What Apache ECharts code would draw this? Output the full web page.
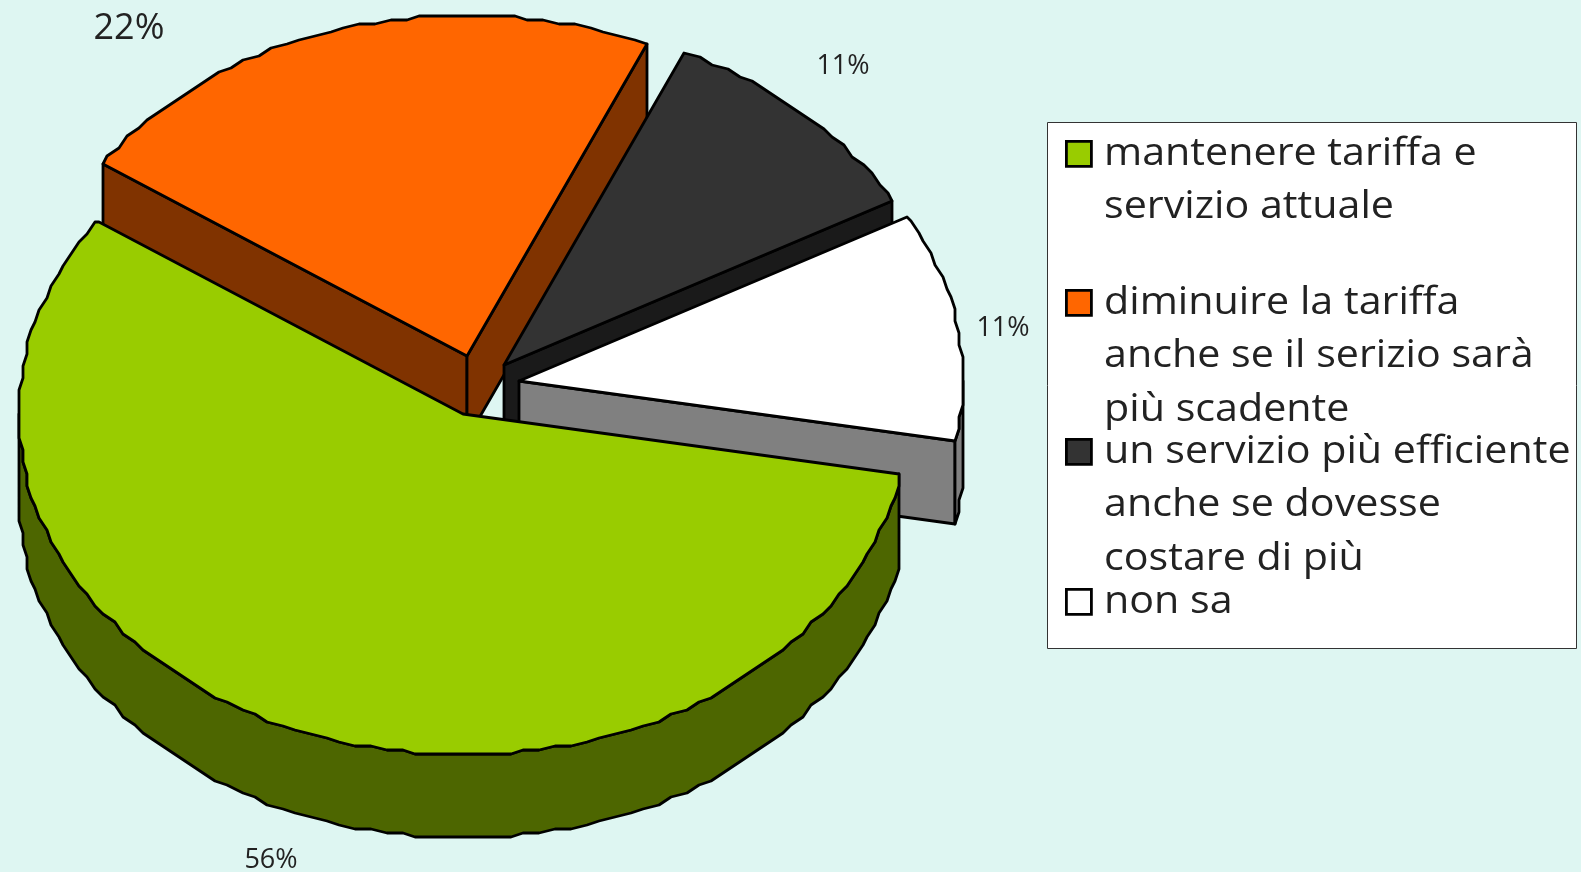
<!DOCTYPE html>
<html>
<head>
<meta charset="utf-8">
<title>Tariffa e servizio</title>
<script src="https://cdn.jsdelivr.net/npm/echarts@6/dist/echarts.min.js"></script>
<style>
  html, body { margin: 0; padding: 0; background: #def6f2; }
  #chart { width: 1581px; height: 872px; }
</style>
</head>
<body>
<div id="chart"></div>
<script>
// dati
var categories = ['mantenere tariffa e\nservizio attuale', 'diminuire la tariffa\nanche se il serizio sarà\npiù scadente', 'un servizio più efficiente\nanche se dovesse\ncostare di più', 'non sa'];
var values = [56, 22, 11, 11];
var topColors = ['#99cc00', '#ff6600', '#333333', '#ffffff'];
var wallColors = ['#4d6600', '#803300', '#1a1a1a', '#808080'];

// geometria della torta 3D
var startAngle = 10;
var perspective = 2; // la prospettiva allarga un po' le fette davanti
var boundaryFix = [0, -0.8, 1.5, 0.5]; // correzione fine dell'inizio di ogni fetta
var rx = 444, ry = 341, depth = 83;
var centers = [[463, 414], [467, 356], [504, 365], [519, 381]];
var labelPos = [[271, 860, 27], [129, 29, 36], [843, 66, 27], [1003, 328, 27]];
var drawOrder = [3, 0, 1, 2];
var legendY = [154, 303, 452, 602];
var lineGap = 53.5;

var total = values.reduce(function (a, b) { return a + b; }, 0);
function warp(th) {
  return th + perspective * (1 - Math.cos((th - startAngle) * Math.PI / 180));
}
var spans = [];
var acc = startAngle;
values.forEach(function (v, i) {
  var next = acc + v / total * 360;
  var fixEnd = i < values.length - 1 ? boundaryFix[i + 1] : 0;
  spans.push([warp(acc) + boundaryFix[i], warp(next) + fixEnd]);
  acc = next;
});

// il bordo originale è "a scalini": arrotondo i punti a una griglia grossa
function rimOffset(t) {
  var q = 4;
  var a = t * Math.PI / 180;
  return [Math.round(rx * Math.cos(a) / q) * q, Math.round(ry * Math.sin(a) / q) * q];
}
function arc(c, t0, t1, dy) {
  var pts = [];
  var step = 2;
  var t = t0;
  while (t < t1) {
    var o = rimOffset(t);
    pts.push([c[0] + o[0], c[1] + o[1] + dy]);
    t = (Math.floor(t / step) + 1) * step;
  }
  var e = rimOffset(t1);
  pts.push([c[0] + e[0], c[1] + e[1] + dy]);
  return pts;
}
function poly(points, fill, z) {
  return {
    type: 'polygon',
    z2: z,
    shape: { points: points },
    style: { fill: fill, stroke: '#000', lineWidth: 2.8, lineJoin: 'round' }
  };
}
function cutWall(c, t, fill, z) {
  var o = rimOffset(t);
  return poly([
    [c[0], c[1]], [c[0] + o[0], c[1] + o[1]],
    [c[0] + o[0], c[1] + o[1] + depth], [c[0], c[1] + depth]
  ], fill, z);
}

function renderSlice(params, api) {
  var i = params.dataIndex;
  var c = centers[i];
  var t0 = spans[i][0], t1 = spans[i][1];
  var z = drawOrder[i] * 10;
  var kids = [];
  if (Math.cos(t0 * Math.PI / 180) < 0) kids.push(cutWall(c, t0, wallColors[i], z));
  if (Math.cos(t1 * Math.PI / 180) > 0) kids.push(cutWall(c, t1, wallColors[i], z));
  // parete esterna: solo la parte rivolta verso il basso
  [0, 360].forEach(function (k) {
    var a = Math.max(t0, k), b = Math.min(t1, k + 180);
    if (b > a) {
      var top = arc(c, a, b, 0);
      var bottom = arc(c, a, b, depth).reverse();
      kids.push(poly(top.concat(bottom), wallColors[i], z + 1));
    }
  });
  kids.push(poly([[c[0], c[1]]].concat(arc(c, t0, t1, 0)), topColors[i], z + 2));
  kids.push({
    type: 'text',
    z2: 100,
    style: {
      x: labelPos[i][0], y: labelPos[i][1],
      text: api.value(0) + '%',
      fill: '#222', font: labelPos[i][2] + 'px "Open Sans"',
      align: 'center', verticalAlign: 'middle'
    }
  });
  return { type: 'group', children: kids };
}

// legenda disegnata a mano, il quadratino sta sulla prima riga
var legendEls = [{
  type: 'rect', left: 1047, top: 122,
  shape: { width: 529, height: 526 },
  style: { fill: '#fff', stroke: '#333', lineWidth: 1 }
}];
categories.forEach(function (name, i) {
  legendEls.push({
    type: 'rect', left: 1065, top: legendY[i] - 14,
    shape: { width: 25, height: 25 },
    style: { fill: topColors[i], stroke: '#000', lineWidth: 2.8 }
  });
  name.split('\n').forEach(function (line, j) {
    legendEls.push({
      type: 'text', left: 1104, top: legendY[i] - 26 + j * lineGap,
      scaleX: 1.085,
      style: { text: line, fill: '#222', font: '38px "Open Sans"', lineHeight: 52 }
    });
  });
});

var chart = echarts.init(document.getElementById('chart'));
chart.setOption({
  backgroundColor: '#def6f2',
  animation: false,
  tooltip: { show: false },
  graphic: legendEls,
  series: [{
    type: 'custom',
    coordinateSystem: 'none',
    silent: true,
    data: values.map(function (v) { return [v]; }),
    renderItem: renderSlice
  }]
});
</script>
</body>
</html>
